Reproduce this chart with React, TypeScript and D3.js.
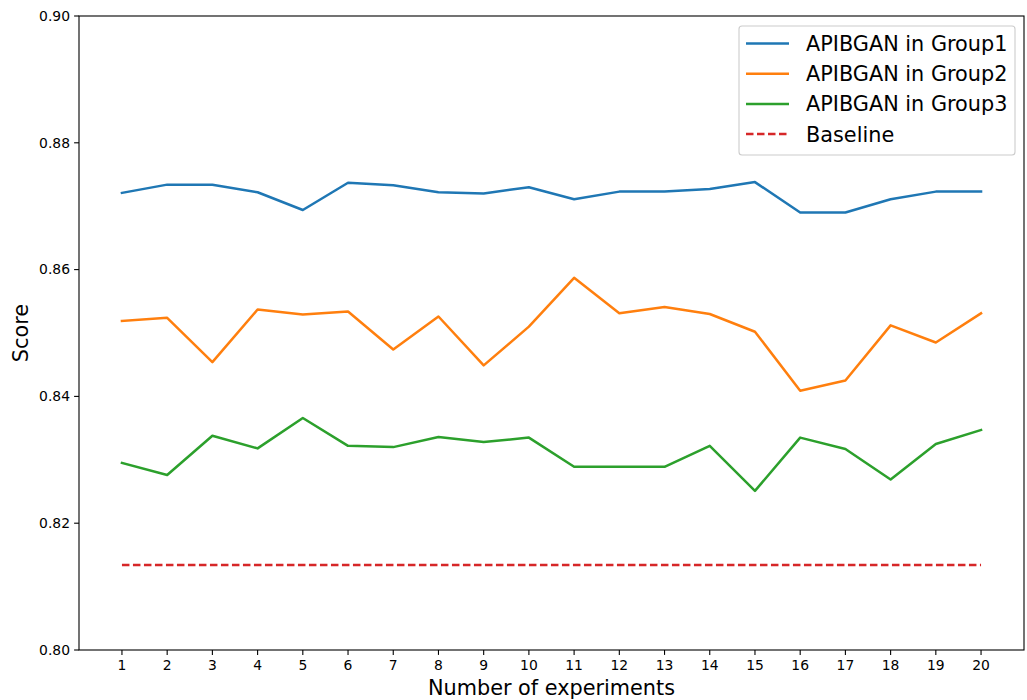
import React from 'react';
import * as d3 from 'd3';

const experiments = d3.range(1, 21);
const group1 = [0.8721, 0.8734, 0.8734, 0.8722, 0.8694, 0.8737, 0.8733, 0.8722, 0.8720, 0.8730,
  0.8711, 0.8723, 0.8723, 0.8727, 0.8738, 0.8690, 0.8690, 0.8711, 0.8723, 0.8723];
const group2 = [0.8519, 0.8524, 0.8454, 0.8537, 0.8529, 0.8534, 0.8474, 0.8526, 0.8449, 0.8510,
  0.8587, 0.8531, 0.8541, 0.8530, 0.8502, 0.8409, 0.8425, 0.8512, 0.8485, 0.8531];
const group3 = [0.8295, 0.8276, 0.8338, 0.8318, 0.8366, 0.8322, 0.8320, 0.8336, 0.8328, 0.8335,
  0.8289, 0.8289, 0.8289, 0.8322, 0.8251, 0.8335, 0.8317, 0.8269, 0.8325, 0.8347];
const baseline = 0.8134;
const yTicks = [0.80, 0.82, 0.84, 0.86, 0.88, 0.90];

const seriesNames = ['APIBGAN in Group1', 'APIBGAN in Group2', 'APIBGAN in Group3'];
const seriesColors = ['#1f77b4', '#ff7f0e', '#2ca02c'];

const W = 1027, H = 700;
const left = 79, right = 1024, top = 16, bottom = 650;
const font = 'DejaVu Sans, sans-serif';
const lw = 2.5;

const App = () => {
  const x = d3.scaleLinear().domain([0.05, 20.95]).range([left, right]);
  const y = d3.scaleLinear().domain([0.80, 0.90]).range([bottom, top]);
  const line = d3.line<number>().x((_, i) => x(experiments[i])).y(d => y(d));
  const all = [group1, group2, group3];

  return (
    <svg width={W} height={H} style={{ position: 'absolute', left: 0, top: 0, background: '#fff' }}>
      {all.map((s, i) => (
        <path key={i} d={line(s) || ''} fill="none" stroke={seriesColors[i]} strokeWidth={lw}
          strokeLinejoin="round" strokeLinecap="square" />
      ))}
      <line x1={x(1)} x2={x(20)} y1={y(baseline)} y2={y(baseline)} stroke="#d62728"
        strokeWidth={lw} strokeDasharray="7.5 3.5" />

      <rect x={left} y={top} width={right - left} height={bottom - top} fill="none" stroke="#000" strokeWidth={1.1} />

      {yTicks.map(t => (
        <g key={t}>
          <line x1={left - 4.9} x2={left} y1={y(t)} y2={y(t)} stroke="#000" strokeWidth={1.1} />
          <text x={left - 9} y={y(t)} dy="0.35em" textAnchor="end" fontFamily={font} fontSize={13.9}>
            {d3.format('.2f')(t)}
          </text>
        </g>
      ))}
      {experiments.map(t => (
        <g key={t}>
          <line x1={x(t)} x2={x(t)} y1={bottom} y2={bottom + 4.9} stroke="#000" strokeWidth={1.1} />
          <text x={x(t)} y={bottom + 9} dy="0.76em" textAnchor="middle" fontFamily={font} fontSize={13.9}>
            {t}
          </text>
        </g>
      ))}

      <text x={(left + right) / 2} y={695} textAnchor="middle" fontFamily={font} fontSize={20.8}>
        Number of experiments
      </text>
      <text transform={`translate(28 ${(top + bottom) / 2}) rotate(-90)`} textAnchor="middle" fontFamily={font} fontSize={20.8}>
        Score
      </text>

      <g>
        <rect x={739} y={26} width={276} height={129} rx={3} fill="#fff" fillOpacity={0.8} stroke="#ccc" strokeWidth={1.1} />
        {[...seriesNames, 'Baseline'].map((name, i) => {
          const ly = 43.5 + i * 30.2;
          return (
            <g key={name}>
              <line x1={746} x2={789} y1={ly} y2={ly}
                stroke={i < 3 ? seriesColors[i] : '#d62728'} strokeWidth={lw}
                strokeDasharray={i < 3 ? undefined : '7.5 3.5'} />
              <text x={806} y={ly} dy="0.36em" fontFamily={font} fontSize={20.8}>{name}</text>
            </g>
          );
        })}
      </g>
    </svg>
  );
};

export default App;
